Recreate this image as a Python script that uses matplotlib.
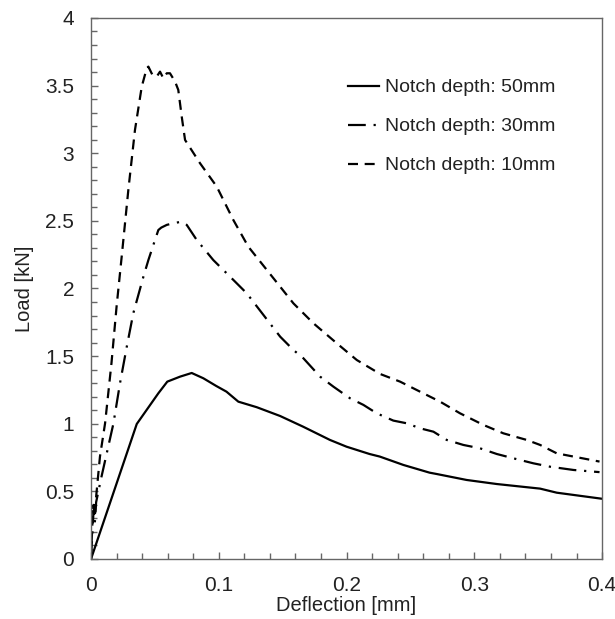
#!/usr/bin/env python3
"""Load-deflection curves for three notch depths."""

import matplotlib
matplotlib.use("Agg")
import matplotlib.pyplot as plt
from matplotlib.ticker import MultipleLocator, FuncFormatter

# Notch depth 50 mm (solid)
defl_50 = [0.0, 0.0358, 0.0527, 0.0597, 0.0697, 0.0788, 0.0879, 0.098, 0.106,
           0.1153, 0.1297, 0.148, 0.166, 0.187, 0.200, 0.218, 0.226, 0.2445,
           0.265, 0.2706, 0.294, 0.3176, 0.3515, 0.3645, 0.4]
load_50 = [0.0, 0.998, 1.225, 1.311, 1.348, 1.375, 1.336, 1.279, 1.237,
           1.163, 1.122, 1.057, 0.978, 0.880, 0.830, 0.776, 0.757, 0.695,
           0.638, 0.628, 0.584, 0.554, 0.520, 0.490, 0.445]

# Notch depth 30 mm (dash-dot)
defl_30 = [0.0, 0.001, 0.002, 0.003, 0.004, 0.008, 0.0175, 0.0227, 0.028,
           0.0331, 0.041, 0.0449, 0.0501, 0.0527, 0.055, 0.0593, 0.0644,
           0.071, 0.0749, 0.0827, 0.0957, 0.1114, 0.1219, 0.148, 0.1584,
           0.1662, 0.1793, 0.1897, 0.2027, 0.2132, 0.2236, 0.2366, 0.2471,
           0.2575, 0.268, 0.2784, 0.2914, 0.3045, 0.3176, 0.3306, 0.3463,
           0.3593, 0.3776, 0.398]
load_30 = [0.0, 0.18, 0.36, 0.27, 0.42, 0.60, 1.0, 1.3, 1.57,
           1.817, 2.087, 2.21, 2.359, 2.432, 2.45, 2.47, 2.482,
           2.494, 2.47, 2.359, 2.21, 2.063, 1.964, 1.644, 1.545,
           1.484, 1.348, 1.274, 1.188, 1.139, 1.077, 1.023, 1.003,
           0.966, 0.941, 0.88, 0.843, 0.818, 0.776, 0.744, 0.707,
           0.682, 0.658, 0.642]

# Notch depth 10 mm (dashed)
defl_10 = [0.0, 0.001, 0.002, 0.003, 0.004, 0.007, 0.011, 0.016, 0.020,
           0.024, 0.0292, 0.0344, 0.0397, 0.0436, 0.0449, 0.048, 0.0514,
           0.054, 0.0566, 0.0593, 0.0618, 0.0658, 0.0683, 0.071, 0.0736,
           0.0853, 0.0984, 0.1114, 0.1231, 0.1584, 0.174, 0.1923, 0.208,
           0.2262, 0.2419, 0.2575, 0.2732, 0.2888, 0.3071, 0.3227, 0.341,
           0.3515, 0.3645, 0.3776, 0.398]
load_10 = [0.0, 0.25, 0.40, 0.32, 0.46, 0.757, 1.003, 1.447, 1.866,
           2.235, 2.728, 3.172, 3.492, 3.628, 3.64, 3.58, 3.566,
           3.603, 3.554, 3.591, 3.591, 3.529, 3.468, 3.27, 3.098,
           2.926, 2.753, 2.506, 2.309, 1.89, 1.743, 1.595, 1.471,
           1.368, 1.311, 1.237, 1.163, 1.077, 0.991, 0.929, 0.88,
           0.843, 0.781, 0.757, 0.72]

labels = ["Notch depth: 50mm", "Notch depth: 30mm", "Notch depth: 10mm"]

plt.rcParams["font.family"] = ["Liberation Sans", "DejaVu Sans"]

fig = plt.figure(figsize=(6.15, 6.19), dpi=100)
ax = fig.add_axes([0.148, 0.097, 0.831, 0.874])

lw = 1.6
ax.plot(defl_50, load_50, color="black", lw=lw, label=labels[0])
ax.plot(defl_30, load_30, color="black", lw=lw, label=labels[1],
        linestyle=(0, (8, 3.5, 1, 3.5)))
ax.plot(defl_10, load_10, color="black", lw=lw, label=labels[2],
        linestyle=(0, (4.5, 3)))

ax.set_xlim(0, 0.4)
ax.set_ylim(0, 4)
ax.xaxis.set_major_locator(MultipleLocator(0.1))
ax.xaxis.set_minor_locator(MultipleLocator(0.02))
ax.yaxis.set_major_locator(MultipleLocator(0.5))
ax.yaxis.set_minor_locator(MultipleLocator(0.1))
fmt = FuncFormatter(lambda v, p: f"{v:g}")
ax.xaxis.set_major_formatter(fmt)
ax.yaxis.set_major_formatter(fmt)

spine_col = "#666666"
for s in ax.spines.values():
    s.set_color(spine_col)
    s.set_linewidth(1.0)
ax.tick_params(which="both", direction="in", color=spine_col, labelsize=15,
               labelcolor="#222222", top=False, right=False)
ax.tick_params(which="major", length=5, width=1)
ax.tick_params(which="minor", length=4, width=1)
ax.tick_params(axis="x", pad=12)
ax.tick_params(axis="y", pad=12)

ax.set_xlabel("Deflection [mm]", fontsize=14.5, labelpad=1, color="#222222")
ax.set_ylabel("Load [kN]", fontsize=14.5, labelpad=8, color="#222222")

leg = ax.legend(loc="upper right", bbox_to_anchor=(0.943, 0.92), frameon=False,
                fontsize=14, handlelength=1.6, handletextpad=0.3,
                labelspacing=1.1)
for t in leg.get_texts():
    t.set_color("#222222")

fig.savefig("out.png", dpi=100)
